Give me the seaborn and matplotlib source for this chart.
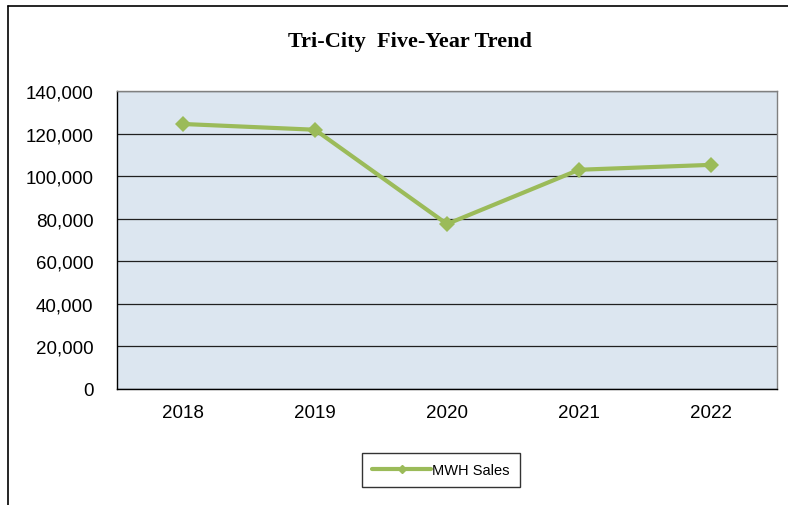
import seaborn as sns
import matplotlib.pyplot as plt
from matplotlib.ticker import FuncFormatter, FixedLocator
from matplotlib.lines import Line2D

years = ["2018", "2019", "2020", "2021", "2022"]
mwh_sales = [124500, 121800, 77500, 103000, 105300]
series_name = "MWH Sales"
title = "Tri-City  Five-Year Trend"

sns.set_style("white")
plt.rcParams["font.family"] = ["Liberation Sans", "DejaVu Sans"]
plt.rcParams["text.color"] = "black"
plt.rcParams["xtick.color"] = "black"
plt.rcParams["ytick.color"] = "black"

fig = plt.figure(figsize=(7.88, 5.06), dpi=100)
ax = fig.add_axes([117 / 788, 1 - 390 / 506, 660 / 788, 298 / 506])

green = "#9BBB59"
sns.lineplot(x=years, y=mwh_sales, ax=ax, color=green, linewidth=3,
             marker="D", markersize=8, markeredgewidth=0, sort=False)

ax.set_facecolor("#DCE6F0")
ax.set_xlim(-0.5, 4.5)
ax.set_ylim(0, 140000)
ax.set_yticks(range(0, 140001, 20000))
ax.yaxis.set_major_formatter(FuncFormatter(lambda v, p: f"{int(v):,}"))
ax.grid(axis="y", color="#202020", linewidth=0.9)
ax.set_axisbelow(True)

ax.xaxis.set_minor_locator(FixedLocator([-0.5, 0.5, 1.5, 2.5, 3.5, 4.5]))
ax.tick_params(axis="x", which="major", length=0, pad=11, labelsize=13.5)
ax.tick_params(axis="x", which="minor", length=6, width=1, color="black", direction="out")
ax.tick_params(axis="y", length=5, width=1, color="black", direction="out", labelsize=13.5, pad=12)
ax.set_xlabel("")
ax.set_ylabel("")

for s in ["left", "bottom"]:
    ax.spines[s].set_color("black")
    ax.spines[s].set_linewidth(1)
for s in ["top", "right"]:
    ax.spines[s].set_color("#808080")
    ax.spines[s].set_linewidth(1)

fig.text(410 / 788, 1 - 42 / 506, title, ha="center", va="center", color="black",
         fontsize=16, fontweight="bold", family="Liberation Serif")

handle = Line2D([], [], color=green, linewidth=3, marker="D", markersize=4)
leg = fig.legend([handle], [series_name], loc="center",
                 bbox_to_anchor=(441 / 788, 1 - 471 / 506), frameon=True,
                 fancybox=False, edgecolor="black", fontsize=10.5,
                 handlelength=4, handletextpad=0.1, borderpad=0.7, borderaxespad=0)
leg.get_frame().set_linewidth(1)
if ax.get_legend() is not None:
    ax.get_legend().remove()

# outer chart frame (only left and top visible in crop)
fig.add_artist(Line2D([8 / 788, 8 / 788], [0, 1 - 7 / 506], color="black", linewidth=1.2, transform=fig.transFigure))
fig.add_artist(Line2D([8 / 788, 1], [1 - 7 / 506, 1 - 7 / 506], color="black", linewidth=1.2, transform=fig.transFigure))

fig.savefig("out.png", dpi=100)
